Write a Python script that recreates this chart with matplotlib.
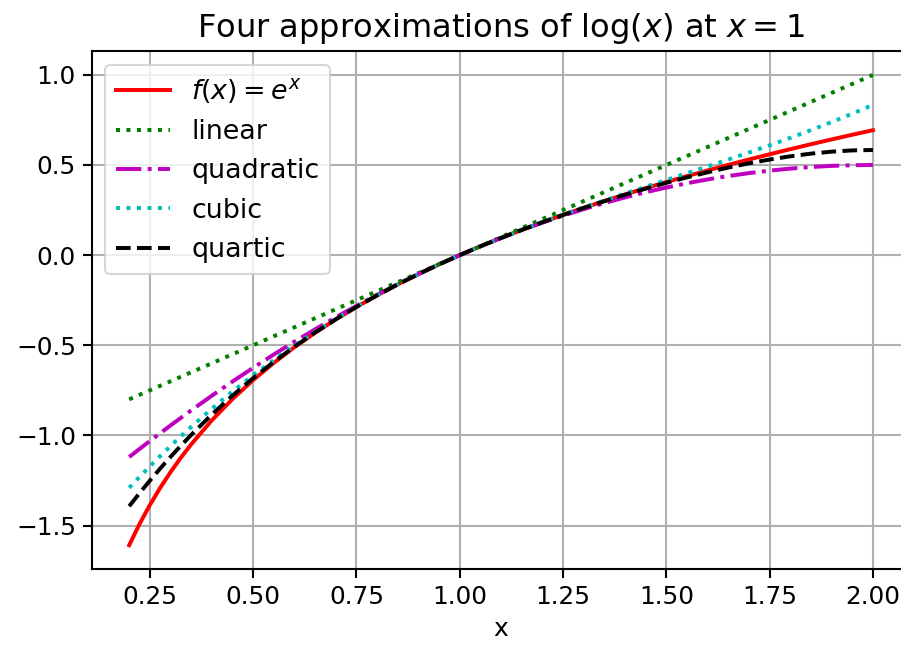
import matplotlib
matplotlib.use('Agg')
import matplotlib.pyplot as plt

# sample points (denser near the steep left end)
x = [0.200, 0.225, 0.250, 0.275, 0.300, 0.325, 0.35, 0.40, 0.45, 0.50, 0.55, 0.60,
     0.65, 0.70, 0.75, 0.80, 0.85, 0.90, 0.95, 1.00, 1.05, 1.10, 1.15, 1.20, 1.25,
     1.30, 1.35, 1.40, 1.45, 1.50, 1.55, 1.60, 1.65, 1.70, 1.75, 1.80, 1.85, 1.90,
     1.95, 2.00]

f_vals = [-1.6094, -1.4917, -1.3863, -1.2910, -1.2040, -1.1239, -1.0498, -0.9163,
          -0.7985, -0.6931, -0.5978, -0.5108, -0.4308, -0.3567, -0.2877, -0.2231,
          -0.1625, -0.1054, -0.0513, 0.0, 0.0488, 0.0953, 0.1398, 0.1823, 0.2231,
          0.2624, 0.3001, 0.3365, 0.3716, 0.4055, 0.4383, 0.4700, 0.5008, 0.5306,
          0.5596, 0.5878, 0.6152, 0.6419, 0.6678, 0.6931]

linear = [-0.800, -0.775, -0.750, -0.725, -0.700, -0.675, -0.65, -0.60, -0.55, -0.50,
          -0.45, -0.40, -0.35, -0.30, -0.25, -0.20, -0.15, -0.10, -0.05, 0.0, 0.05,
          0.10, 0.15, 0.20, 0.25, 0.30, 0.35, 0.40, 0.45, 0.50, 0.55, 0.60, 0.65,
          0.70, 0.75, 0.80, 0.85, 0.90, 0.95, 1.00]

quadratic = [-1.1200, -1.0753, -1.0313, -0.9878, -0.9450, -0.9028, -0.8613, -0.7800,
             -0.7013, -0.6250, -0.5513, -0.4800, -0.4113, -0.3450, -0.2813, -0.2200,
             -0.1613, -0.1050, -0.0513, 0.0, 0.0488, 0.0950, 0.1388, 0.1800, 0.2188,
             0.2550, 0.2888, 0.3200, 0.3488, 0.3750, 0.3988, 0.4200, 0.4388, 0.4550,
             0.4688, 0.4800, 0.4888, 0.4950, 0.4988, 0.5000]

cubic = [-1.2907, -1.2305, -1.1719, -1.1148, -1.0593, -1.0053, -0.9528, -0.8520,
         -0.7567, -0.6667, -0.5816, -0.5013, -0.4255, -0.3540, -0.2865, -0.2227,
         -0.1624, -0.1053, -0.0513, 0.0, 0.0488, 0.0953, 0.1399, 0.1827, 0.2240,
         0.2640, 0.3030, 0.3413, 0.3791, 0.4167, 0.4542, 0.4920, 0.5303, 0.5693,
         0.6094, 0.6507, 0.6935, 0.7380, 0.7845, 0.8333]

quartic = [-1.3931, -1.3207, -1.2510, -1.1839, -1.1194, -1.0572, -0.9974, -0.8844,
           -0.7796, -0.6823, -0.5919, -0.5077, -0.4293, -0.3560, -0.2874, -0.2231,
           -0.1625, -0.1054, -0.0513, 0.0, 0.0488, 0.0953, 0.1397, 0.1823, 0.2230,
           0.2620, 0.2993, 0.3349, 0.3689, 0.4010, 0.4313, 0.4596, 0.4857, 0.5093,
           0.5303, 0.5483, 0.5630, 0.5740, 0.5809, 0.5833]

plt.rcParams['axes.linewidth'] = 1.0
plt.rcParams['xtick.major.size'] = 4.2
plt.rcParams['ytick.major.size'] = 4.2
plt.rcParams['xtick.major.width'] = 1.0
plt.rcParams['ytick.major.width'] = 1.0
plt.rcParams['grid.linewidth'] = 1.0

fig = plt.figure(figsize=(9.02 / 1.5, 6.5 / 1.5), dpi=150)
# the original axes runs past the right edge of the image
ax = fig.add_axes([0.102, 0.125, 0.907, 0.796])

lw = 1.9
ax.plot(x, f_vals, 'r-', linewidth=lw, label='$f(x)=e^x$')
ax.plot(x, linear, 'g:', linewidth=lw, label='linear')
ax.plot(x, quadratic, 'm-.', linewidth=lw, label='quadratic')
ax.plot(x, cubic, 'c:', linewidth=lw, label='cubic')
ax.plot(x, quartic, 'k--', linewidth=lw, label='quartic')

ax.set_xlabel('x', fontsize=12)
ax.set_title('Four approximations of $\\log(x)$ at $x=1$', fontsize=15.4, pad=7)
ax.tick_params(labelsize=11.9)
ax.grid(True)
ax.legend(loc='upper left', fontsize=12.9)

fig.savefig('out.png', dpi=150)
